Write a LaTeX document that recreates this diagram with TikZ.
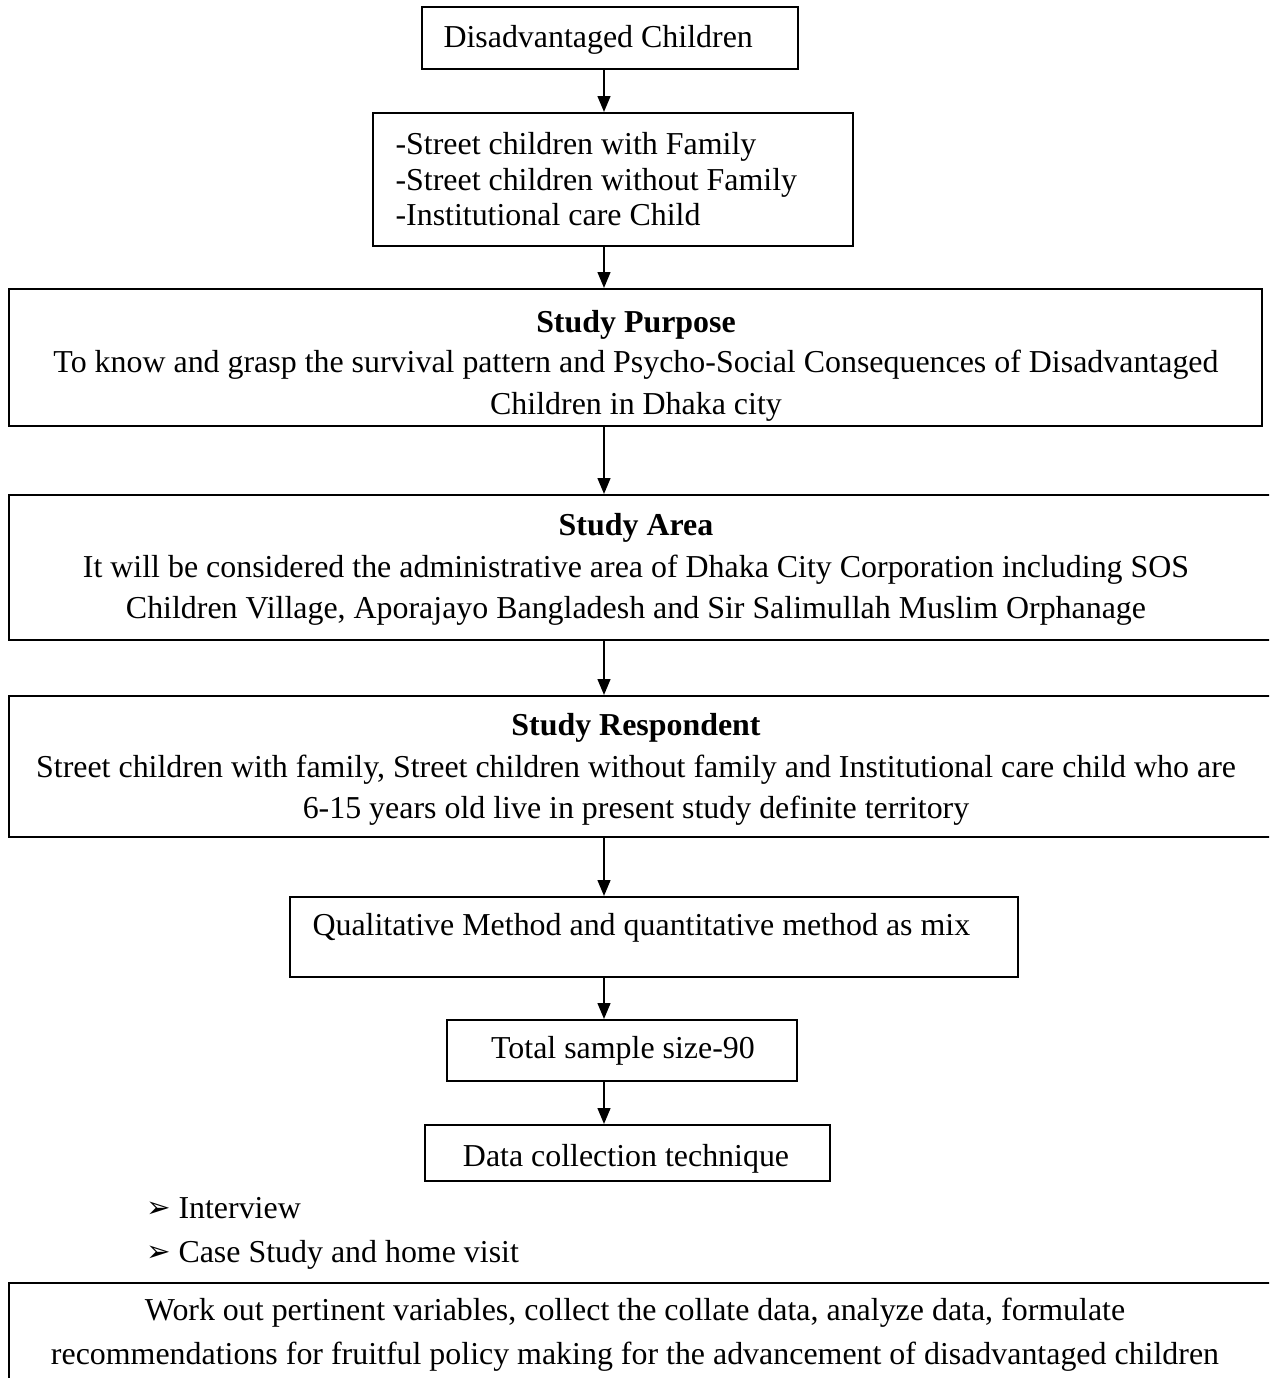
\documentclass[tikz,border=0pt]{standalone}
\usepackage{fontspec}
\setmainfont{Liberation Serif}
\newfontfamily\dejavu{DejaVu Sans}
\usetikzlibrary{arrows.meta,fit}
\begin{document}
\begin{tikzpicture}[x=0.376pt,y=-0.376pt,
  box/.style={draw, line width=0.75pt, inner sep=0pt},
  txt/.style={inner sep=0pt, font=\fontsize{12}{14}\selectfont},
  txtb/.style={inner sep=0pt, font=\fontsize{12}{14}\selectfont\bfseries},
  bul/.style={inner sep=0pt, font=\fontsize{11}{13}\selectfont\dejavu},
  arr/.style={line width=0.75pt, -{Triangle[length=6pt,width=4.8pt]}}]
\useasboundingbox (0,0) rectangle (1269,1378);
\clip (0,0) rectangle (1269,1378);
% boxes
\node[box, fit={(422,7) (798,69)}] (b1) {};
\node[box, fit={(373,113) (853,246)}] (b2) {};
\node[box, fit={(9,289) (1262,426)}] (b3) {};
\node[box, fit={(9,495) (1300,640)}] (b4) {};
\node[box, fit={(9,696) (1300,837)}] (b5) {};
\node[box, fit={(290,897) (1018,977)}] (b6) {};
\node[box, fit={(447,1020) (797,1081)}] (b7) {};
\node[box, fit={(425,1125) (830,1181)}] (b8) {};
\node[box, fit={(9,1283) (1300,1420)}] (b9) {};
% connectors
\coordinate (ax) at (604,0);
\draw[arr] (b1.south -| ax) -- (b2.north -| ax);
\draw[arr] (b2.south -| ax) -- (b3.north -| ax);
\draw[arr] (b3.south -| ax) -- (b4.north -| ax);
\draw[arr] (b4.south -| ax) -- (b5.north -| ax);
\draw[arr] (b5.south -| ax) -- (b6.north -| ax);
\draw[arr] (b6.south -| ax) -- (b7.north -| ax);
\draw[arr] (b7.south -| ax) -- (b8.north -| ax);
% texts
\node[txt, anchor=base west] (t1) at (443,48) {Disadvantaged Children};
\node[txt, anchor=base west] (t2a) at (395,155) {-Street children with Family};
\node[txt, anchor=base west] (t2b) at (395,191) {-Street children without Family};
\node[txt, anchor=base west] (t2c) at (395,226) {-Institutional care Child};
\node[txtb, anchor=base] (t3a) at (636,332) {Study Purpose};
\node[txt, anchor=base] (t3b) at (636,373) {To know and grasp the survival pattern and Psycho-Social Consequences of Disadvantaged};
\node[txt, anchor=base] (t3c) at (636,414) {Children in Dhaka city};
\node[txtb, anchor=base] (t4a) at (636,535) {Study Area};
\node[txt, anchor=base] (t4b) at (636,577) {It will be considered the administrative area of Dhaka City Corporation including SOS};
\node[txt, anchor=base] (t4c) at (636,618) {Children Village, Aporajayo Bangladesh and Sir Salimullah Muslim Orphanage};
\node[txtb, anchor=base] (t5a) at (636,735) {Study Respondent};
\node[txt, anchor=base] (t5b) at (636,777) {Street children with family, Street children without family and Institutional care child who are};
\node[txt, anchor=base] (t5c) at (636,818) {6-15 years old live in present study definite territory};
\node[txt, anchor=base west] (t6) at (312,935) {Qualitative Method and quantitative method as mix};
\node[txt, anchor=base] (t7) at (623,1058) {Total sample size-90};
\node[txt, anchor=base] (t8) at (626,1166) {Data collection technique};
\node[bul, anchor=base west] (u1) at (146,1217) {➢};
\node[txt, anchor=base west] (l1) at (178,1218) {Interview};
\node[bul, anchor=base west] (u2) at (146,1261) {➢};
\node[txt, anchor=base west] (l2) at (178,1262) {Case Study and home visit};
\node[txt, anchor=base] (t9a) at (635,1320) {Work out pertinent variables, collect the collate data, analyze data, formulate};
\node[txt, anchor=base] (t9b) at (635,1364) {recommendations for fruitful policy making for the advancement of disadvantaged children};
\end{tikzpicture}
\end{document}
